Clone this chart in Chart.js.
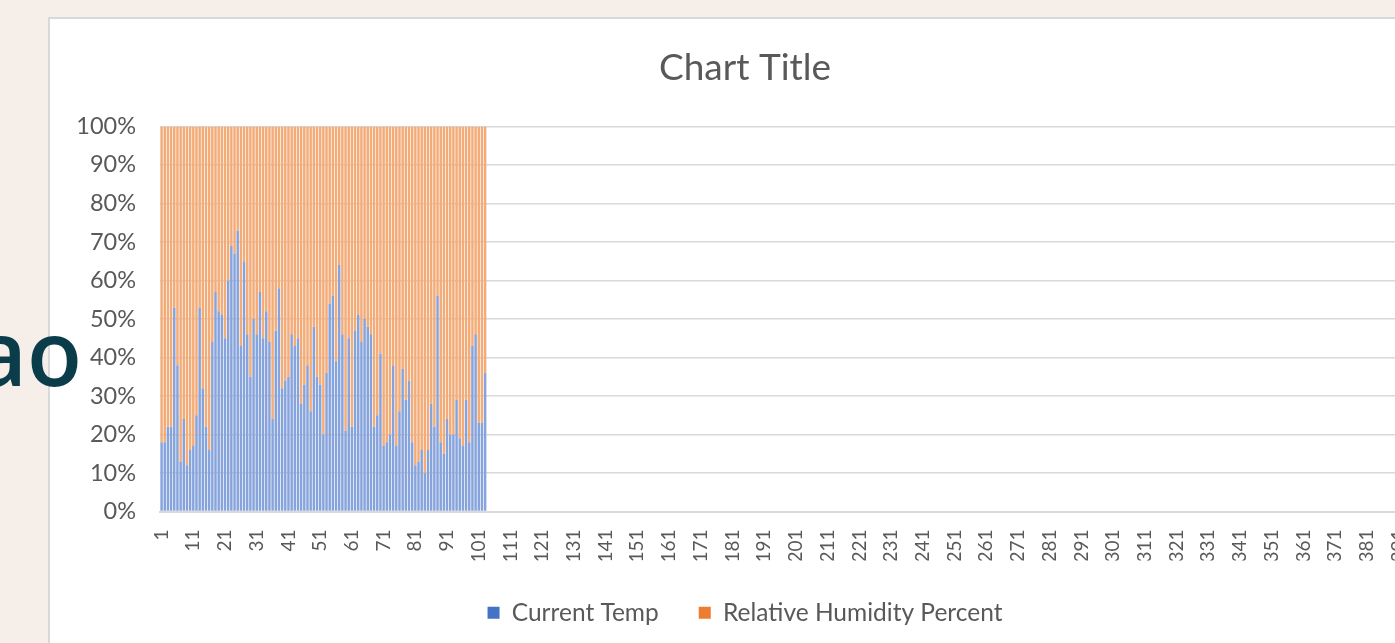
<!DOCTYPE html>
<html>
<head>
<meta charset="utf-8">
<script src="https://cdn.jsdelivr.net/npm/chart.js@4.4.1/dist/chart.umd.min.js"></script>
<style>
  html, body { margin: 0; padding: 0; }
  body { width: 1395px; height: 643px; overflow: hidden; background: #f6eee8; position: relative; }
  #panel { position: absolute; left: 48px; top: 17px; width: 1420px; height: 700px;
           background: #fff; border: 2px solid #d9d9d9; }
  #wrap { position: absolute; left: 0; top: 0; width: 1410px; height: 616px; }
  #deco { position: absolute; left: -200px; top: 306px; width: 282px; text-align: right;
          font: 600 90px/1 "Open Sans", sans-serif; color: #0b3c4a; z-index: 3; }
</style>
</head>
<body>
<div id="panel"><div id="wrap"><canvas id="chart"></canvas></div></div>
<div id="deco">ao</div>
<script>
  // category numbers 1..400 along the x axis
  const categories = Array.from({ length: 400 }, (_, i) => String(i + 1));

  // share of each column, in percent (100% stacked)
  const currentTemp = [
    18, 18, 22, 22, 53, 38, 13, 24, 12, 16, 17, 25, 53, 32, 22, 16, 44,
    57, 52, 51, 45, 60, 69, 67, 73, 43, 65, 46, 35, 50, 46, 57, 45, 52,
    44, 24, 47, 58, 32, 34, 35, 46, 43, 45, 28, 33, 38, 26, 48, 35, 33,
    20, 36, 54, 56, 39, 64, 46, 21, 45, 22, 47, 51, 44, 50, 48, 46, 22, 25,
    41, 17, 18, 20, 38, 17, 26, 37, 29, 34, 18, 12, 13, 16, 10, 16, 28,
    22, 56, 18, 15, 24, 20, 20, 29, 19, 17, 29, 18, 43, 46, 23, 23, 36,
  ];
  const humidity = [
    82, 82, 78, 78, 47, 62, 87, 76, 88, 84, 83, 75, 47, 68, 78, 84, 56,
    43, 48, 49, 55, 40, 31, 33, 27, 57, 35, 54, 65, 50, 54, 43, 55, 48,
    56, 76, 53, 42, 68, 66, 65, 54, 57, 55, 72, 67, 62, 74, 52, 65, 67,
    80, 64, 46, 44, 61, 36, 54, 79, 55, 78, 53, 49, 56, 50, 52, 54, 78, 75,
    59, 83, 82, 80, 62, 83, 74, 63, 71, 66, 82, 88, 87, 84, 90, 84, 72,
    78, 44, 82, 85, 76, 80, 80, 71, 81, 83, 71, 82, 57, 54, 77, 77, 64,
  ];

  const yTicks = [0, 10, 20, 30, 40, 50, 60, 70, 80, 90, 100];

  const textColor = '#595959';
  const font = 'Lato';

  const ctx = document.getElementById('chart').getContext('2d');
  new Chart(ctx, {
    type: 'bar',
    data: {
      labels: categories,
      datasets: [
        {
          label: 'Current Temp',
          data: currentTemp,
          backgroundColor: '#86a3db',
          borderWidth: 0,
          barPercentage: 0.78,
          categoryPercentage: 1,
        },
        {
          label: 'Relative Humidity Percent',
          data: humidity,
          backgroundColor: '#f3ab78',
          borderWidth: 0,
          barPercentage: 0.78,
          categoryPercentage: 1,
        },
      ],
    },
    options: {
      responsive: true,
      maintainAspectRatio: false,
      animation: false,
      layout: {
        padding: { left: 10, right: 30, top: 0, bottom: 0 },
      },
      plugins: {
        tooltip: { enabled: false },
        title: {
          display: true,
          text: 'Chart Title',
          color: textColor,
          font: { family: font, size: 37, weight: 'normal' },
          padding: { top: 27, bottom: 36 },
        },
        legend: {
          position: 'bottom',
          labels: {
            color: textColor,
            font: { family: font, size: 24.5 },
            boxWidth: 12,
            boxHeight: 12,
            padding: 40,
            generateLabels: (chart) => chart.data.datasets.map((ds, i) => ({
              text: ds.label,
              fillStyle: i === 0 ? '#4472c4' : '#ed7d31',
              strokeStyle: 'transparent',
              lineWidth: 0,
              datasetIndex: i,
              fontColor: textColor,
            })),
          },
        },
      },
      scales: {
        x: {
          stacked: true,
          grid: { display: false },
          border: { color: '#d9d9d9', width: 2 },
          ticks: {
            autoSkip: false,
            minRotation: 90,
            maxRotation: 90,
            padding: 10,
            color: textColor,
            font: { family: font, size: 19 },
            callback: (v, i) => (i % 10 === 0 ? categories[i] : ''),
          },
          afterFit: (scale) => { scale.height = 49; },
        },
        y: {
          stacked: true,
          min: 0,
          max: 100,
          afterBuildTicks: (scale) => { scale.ticks = yTicks.map((v) => ({ value: v })); },
          grid: { color: '#d9d9d9', lineWidth: 1.5, drawTicks: false },
          border: { display: false },
          ticks: {
            padding: 24,
            color: textColor,
            font: { family: font, size: 23.5 },
            callback: (v) => v + '%',
          },
          afterFit: (scale) => { scale.width = 100; },
        },
      },
    },
  });
</script>
</body>
</html>
